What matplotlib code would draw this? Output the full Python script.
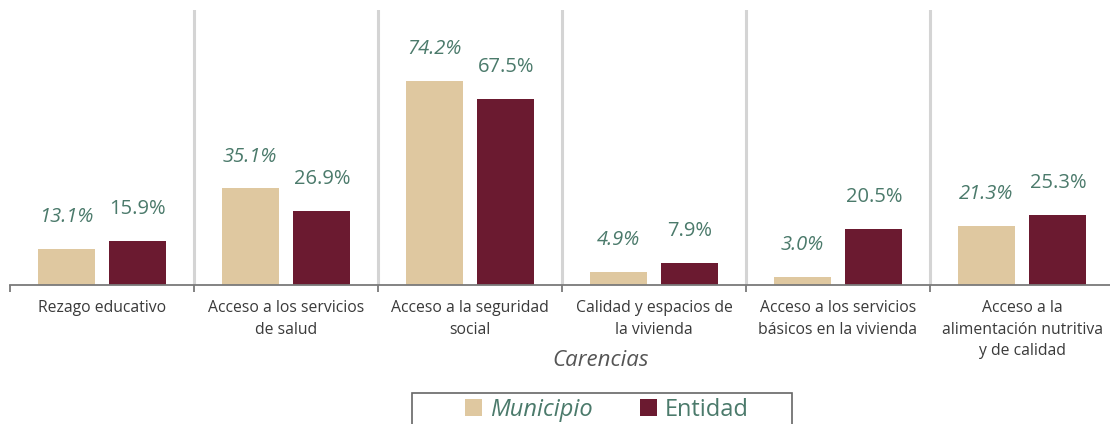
import matplotlib.pyplot as plt
import matplotlib.patches as mpatches
import numpy as np

#----- Data -----
categorias = [ "Rezago educativo", "Acceso a los servicios\nde salud", "Acceso a la seguridad\nsocial",
               "Calidad y espacios de\nla vivienda", "Acceso a los servicios\nbásicos en la vivienda",
               "Acceso a la\nalimentación nutritiva\ny de calidad" ]
municipio = [ 13.1, 35.1, 74.2, 4.9, 3.0, 21.3 ]
entidad = [ 15.9, 26.9, 67.5, 7.9, 20.5, 25.3 ]

#----- Styles -----
col_mun = "#dfc8a0"
col_ent = "#6b1a30"
col_val = "#4b7a6b"
col_txt = "#3a3a3a"
plt.rcParams["font.family"] = [ "Open Sans", "DejaVu Sans" ]

W, H = 1110, 424
fig = plt.figure( figsize=(W/100, H/100), dpi=100 )
ax = fig.add_axes( [ 10/W, (H-285)/H, 1104/W, 275/H ] )

x = np.arange(len( categorias ))
off = 0.195
bw = 0.31
b1 = ax.bar( x - off, municipio, bw, color=col_mun )
b2 = ax.bar( x + off, entidad, bw, color=col_ent )

for xi, v in zip( x, municipio ):
	ax.annotate( f"{v:.1f}%", (xi - off, v), xytext=(0, 23), textcoords="offset points",
	             ha="center", va="center", fontsize=14.5, style="italic", color=col_val )
for xi, v in zip( x, entidad ):
	ax.annotate( f"{v:.1f}%", (xi + off, v), xytext=(0, 23), textcoords="offset points",
	             ha="center", va="center", fontsize=14.5, color=col_val )

for b in np.arange( 0.5, len(categorias) - 0.5 ):
	ax.axvline( b, color="#d4d4d4", lw=2.2, zorder=0 )

ax.set_xlim( -0.5, len(categorias) - 0.5 )
ax.set_ylim( 0, 100 )
ax.set_yticks( [] )
for s in [ "top", "right", "left" ]:
	ax.spines[s].set_visible( False )
ax.spines["bottom"].set_color( "#7a7a7a" )
ax.spines["bottom"].set_linewidth( 1.3 )

ax.set_xticks( x )
ax.set_xticklabels( categorias, fontsize=11.3, color=col_txt, linespacing=1.45 )
ax.tick_params( axis="x", which="major", length=0, pad=11 )
ax.set_xticks( np.arange( -0.5, len(categorias) ), minor=True )
ax.tick_params( axis="x", which="minor", length=5, width=1.3, color="#7a7a7a" )

fig.text( 601/W, 1 - 360/H, "Carencias", ha="center", va="center", fontsize=16,
          style="italic", color="#555555" )

#--- Legend, with its own box ---
leg = fig.legend( [ b1, b2 ], [ "Municipio", "Entidad" ], loc="center",
                  bbox_to_anchor=(607/W, 1 - 410/H), ncol=2, frameon=False,
                  fontsize=17, handlelength=0.7, handleheight=0.7,
                  columnspacing=2.0, handletextpad=0.35, borderaxespad=0 )
for t in leg.get_texts():
	t.set_color( col_val )
leg.get_texts()[0].set_style( "italic" )
fig.patches.append( mpatches.Rectangle( (412/W, -0.02), 380/W, (H-393)/H + 0.02,
                    transform=fig.transFigure, fill=False, edgecolor="#666666", lw=1.2 ) )

plt.savefig( "out.png", dpi=100 )
